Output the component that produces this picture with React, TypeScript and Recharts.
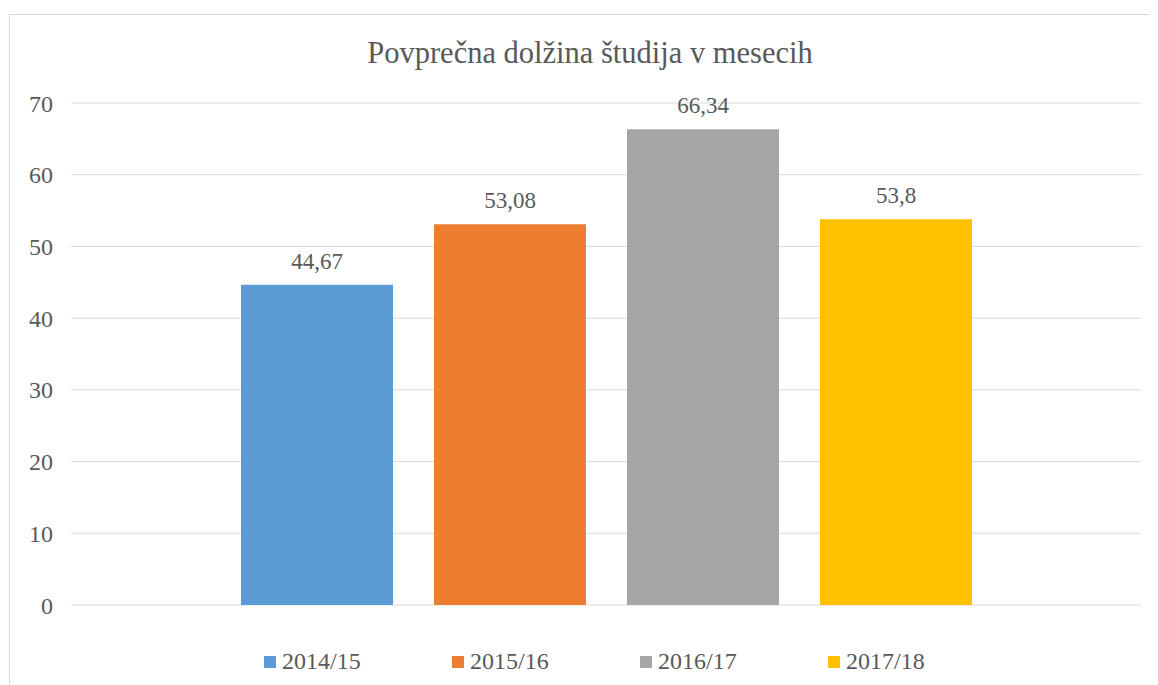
import { BarChart, Bar, YAxis, CartesianGrid, LabelList } from 'recharts'

const seriesNames = ['2014/15', '2015/16', '2016/17', '2017/18']
const seriesValues = [44.67, 53.08, 66.34, 53.8]
const seriesColors = ['#5B9BD5', '#ED7D31', '#A5A5A5', '#FFC000']
const yTicks = [0, 10, 20, 30, 40, 50, 60, 70]

const title = 'Povprečna dolžina študija v mesecih'

const row: Record<string, string | number> = { name: 'all' }
seriesNames.forEach((s, i) => {
  row[s] = seriesValues[i]
})
const data = [row]

const font = '"Liberation Serif", serif'
const textColor = '#595959'

const fmt = (v: any) => String(v).replace('.', ',')

export default function App() {
  return (
    <div
      style={{
        position: 'relative',
        width: 1160,
        height: 690,
        marginTop: 6,
        marginLeft: 1,
        border: '1px solid #d9d9d9',
        background: '#fff',
        fontFamily: font,
      }}
    >
      <div
        style={{
          position: 'absolute',
          top: 21,
          left: 0,
          width: 1160,
          textAlign: 'center',
          fontSize: 30.5,
          color: textColor,
        }}
      >
        {title}
      </div>
      <BarChart
        width={1160}
        height={690}
        data={data}
        margin={{ top: 88, right: 29, bottom: 100, left: 0 }}
        barSize={152}
        barGap={41}
        style={{ fontFamily: font }}
      >
        <CartesianGrid vertical={false} stroke="#d9d9d9" />
        <YAxis
          domain={[0, 70]}
          ticks={yTicks}
          width={61}
          axisLine={false}
          tickLine={false}
          tickSize={0}
          tickMargin={18}
          tick={{ fill: textColor, fontSize: 24, fontFamily: font }}
        />
        {seriesNames.map((s, i) => (
          <Bar key={s} dataKey={s} fill={seriesColors[i]} isAnimationActive={false}>
            <LabelList
              dataKey={s}
              position="top"
              offset={16}
              formatter={fmt}
              fill={textColor}
              fontSize={23}
              fontFamily={font}
            />
          </Bar>
        ))}
      </BarChart>
      <div style={{ position: 'absolute', top: 633, left: 254, display: 'flex' }}>
        {seriesNames.map((s, i) => (
          <div
            key={s}
            style={{ width: 188, display: 'flex', alignItems: 'center', fontSize: 24, color: textColor }}
          >
            <span
              style={{ width: 12, height: 12, background: seriesColors[i], marginRight: 6, display: 'inline-block' }}
            />
            {s}
          </div>
        ))}
      </div>
    </div>
  )
}
